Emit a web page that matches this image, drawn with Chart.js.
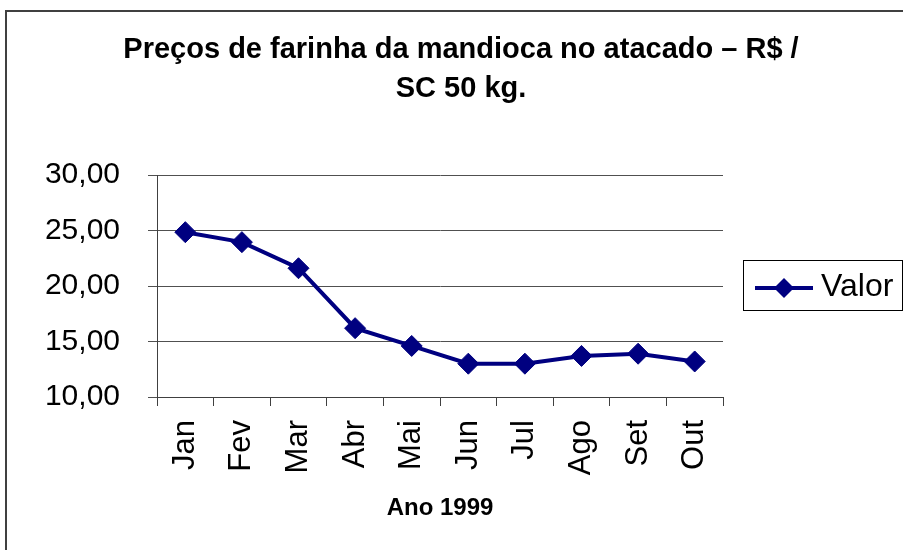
<!DOCTYPE html>
<html>
<head>
<meta charset="utf-8">
<title>Preços de farinha da mandioca</title>
<script src="https://cdn.jsdelivr.net/npm/chart.js@4.4.1/dist/chart.umd.min.js"></script>
<style>
  html, body { margin: 0; padding: 0; background: #fff; }
  canvas { display: block; }
</style>
</head>
<body>
<canvas id="chart" width="903" height="550"></canvas>
<script>
  // dados do gráfico
  const meses = ['Jan', 'Fev', 'Mar', 'Abr', 'Mai', 'Jun', 'Jul', 'Ago', 'Set', 'Out'];
  const valores = [24.85, 23.95, 21.6, 16.2, 14.6, 13.0, 13.0, 13.7, 13.9, 13.2];
  const tituloLinhas = ['Preços de farinha da mandioca no atacado – R$ /', 'SC 50 kg.'];
  const serieNome = 'Valor';
  const eixoX = 'Ano 1999';

  const FONTE = '"Liberation Sans", Arial, sans-serif';
  const AZUL = '#000080';

  // moldura, título e legenda desenhados à mão
  const moldura = {
    id: 'moldura',
    beforeDraw(chart) {
      const ctx = chart.ctx;
      ctx.save();
      ctx.fillStyle = '#fff';
      ctx.fillRect(0, 0, chart.width, chart.height);
      ctx.strokeStyle = '#404040';
      ctx.lineWidth = 2;
      ctx.strokeRect(6, 11, chart.width + 20, chart.height + 20);
      ctx.restore();
    },
    afterDraw(chart) {
      const ctx = chart.ctx;
      ctx.save();
      // título
      ctx.fillStyle = '#000';
      ctx.font = 'bold 29px ' + FONTE;
      ctx.textAlign = 'center';
      ctx.textBaseline = 'middle';
      ctx.fillText(tituloLinhas[0], 461, 50);
      ctx.fillText(tituloLinhas[1], 461, 89);

      // legenda
      ctx.strokeStyle = '#000';
      ctx.lineWidth = 1;
      ctx.strokeRect(743.5, 260.5, 159, 50);
      ctx.strokeStyle = AZUL;
      ctx.lineWidth = 4;
      ctx.beginPath();
      ctx.moveTo(755, 288);
      ctx.lineTo(813, 288);
      ctx.stroke();
      ctx.fillStyle = AZUL;
      ctx.beginPath();
      ctx.moveTo(784, 278);
      ctx.lineTo(794, 288);
      ctx.lineTo(784, 298);
      ctx.lineTo(774, 288);
      ctx.closePath();
      ctx.fill();
      ctx.fillStyle = '#000';
      ctx.font = '32px ' + FONTE;
      ctx.textAlign = 'left';
      ctx.fillText(serieNome, 821, 287);
      ctx.restore();
    }
  };

  new Chart(document.getElementById('chart'), {
    type: 'line',
    data: {
      labels: meses,
      datasets: [{
        label: serieNome,
        data: valores,
        borderColor: AZUL,
        backgroundColor: AZUL,
        borderWidth: 4,
        pointStyle: 'rectRot',
        pointRadius: 10.5,
        pointBorderWidth: 1,
        pointBackgroundColor: AZUL,
        pointBorderColor: AZUL,
        tension: 0
      }]
    },
    options: {
      responsive: false,
      animation: false,
      devicePixelRatio: 1,
      layout: { padding: { top: 175, right: 180, bottom: 0, left: 0 } },
      plugins: {
        legend: { display: false },
        title: { display: false },
        tooltip: { enabled: false }
      },
      scales: {
        x: {
          type: 'category',
          offset: true,
          afterFit(scale) { scale.height = 153; },
          grid: {
            display: true,
            offset: true,
            drawOnChartArea: false,
            drawTicks: true,
            tickLength: 9,
            color: '#404040'
          },
          border: { display: true, color: '#404040', width: 1 },
          ticks: {
            minRotation: 90,
            maxRotation: 90,
            padding: 14,
            color: '#000',
            font: { family: FONTE, size: 31 }
          },
          title: {
            display: true,
            text: eixoX,
            color: '#000',
            font: { family: FONTE, size: 24, weight: 'bold' },
            padding: { top: 0, bottom: 27 }
          }
        },
        y: {
          min: 10,
          max: 30,
          afterFit(scale) { scale.width = 157; },
          grid: {
            color: '#505050',
            lineWidth: 1,
            drawTicks: true,
            tickLength: 9
          },
          border: { display: true, color: '#404040', width: 1 },
          ticks: {
            stepSize: 5,
            padding: 28,
            color: '#000',
            font: { family: FONTE, size: 30 },
            callback: v => v.toFixed(2).replace('.', ',')
          }
        }
      }
    },
    plugins: [moldura]
  });
</script>
</body>
</html>
